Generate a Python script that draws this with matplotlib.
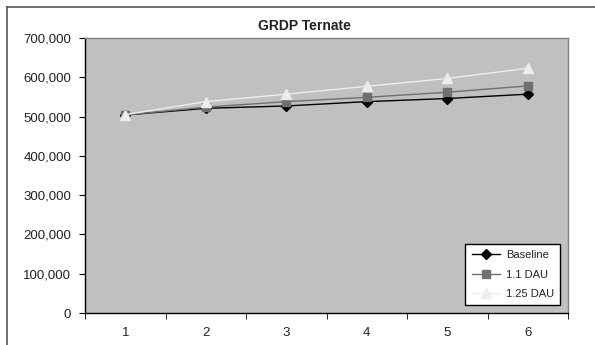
import matplotlib
matplotlib.use("Agg")
import matplotlib.pyplot as plt
from matplotlib.lines import Line2D

categories = [1, 2, 3, 4, 5, 6]
baseline = [504000, 521000, 527000, 538000, 546000, 557000]
dau_1_1 = [504000, 524000, 538000, 549000, 562000, 578000]
dau_1_25 = [505000, 538000, 557000, 577000, 597000, 623000]
yticks = [0, 100000, 200000, 300000, 400000, 500000, 600000, 700000]

plt.rcParams['font.family'] = ['Liberation Sans', 'DejaVu Sans']

fig = plt.figure(figsize=(5.95, 3.45), dpi=100)
fig.patch.set_facecolor('white')

# outer chart border (top and left visible)
fig.add_artist(Line2D([7/595, 1.0], [1 - 7/345, 1 - 7/345], transform=fig.transFigure,
                      color='#555555', lw=1.2))
fig.add_artist(Line2D([7/595, 7/595], [0, 1 - 7/345], transform=fig.transFigure,
                      color='#555555', lw=1.2))

ax = fig.add_axes([85/595, 32/345, 483/595, 275/345])
ax.set_facecolor('#c0c0c0')

x = list(range(len(categories)))
ax.plot(x, baseline, color='black', lw=1.0, marker='D', ms=5, mfc='black', mec='black', label='Baseline')
ax.plot(x, dau_1_1, color='#707070', lw=1.0, marker='s', ms=5.5, mfc='#707070', mec='#707070', label='1.1 DAU')
ax.plot(x, dau_1_25, color='#ececec', lw=1.0, marker='^', ms=6.5, mfc='#ececec', mec='#ececec', label='1.25 DAU')

ax.set_xlim(-0.5, len(categories) - 0.5)
ax.set_ylim(0, 700000)
ax.set_yticks(yticks)
ax.set_yticklabels([f"{v:,}" for v in yticks], fontsize=9.5, color='#222222')
ax.set_xticks(x)
ax.set_xticklabels([str(c) for c in categories], fontsize=9.5, color='#222222')
ax.set_xticks([i - 0.5 for i in range(len(categories) + 1)], minor=True)
ax.tick_params(axis='x', which='major', length=0, pad=10)
ax.tick_params(axis='x', which='minor', length=4, direction='out', color='black')
ax.tick_params(axis='y', length=4, direction='out', color='black', pad=6)

for s in ['left', 'bottom']:
    ax.spines[s].set_color('black')
    ax.spines[s].set_linewidth(1.0)
for s in ['top', 'right']:
    ax.spines[s].set_color('#808080')
    ax.spines[s].set_linewidth(1.0)

fig.text(304/595, 1 - 26/345, 'GRDP Ternate', fontsize=10, fontweight='bold',
         ha='center', va='center', color='#222222')

leg = ax.legend(loc='lower right', fontsize=8, frameon=True, fancybox=False,
                edgecolor='black', facecolor='white', framealpha=1,
                borderaxespad=0.7, handlelength=2.6, handletextpad=0.5,
                labelspacing=0.85, borderpad=0.55)
leg.get_frame().set_linewidth(1.0)
for t in leg.get_texts():
    t.set_color('#222222')

fig.savefig('out.png', dpi=100, facecolor='white')
